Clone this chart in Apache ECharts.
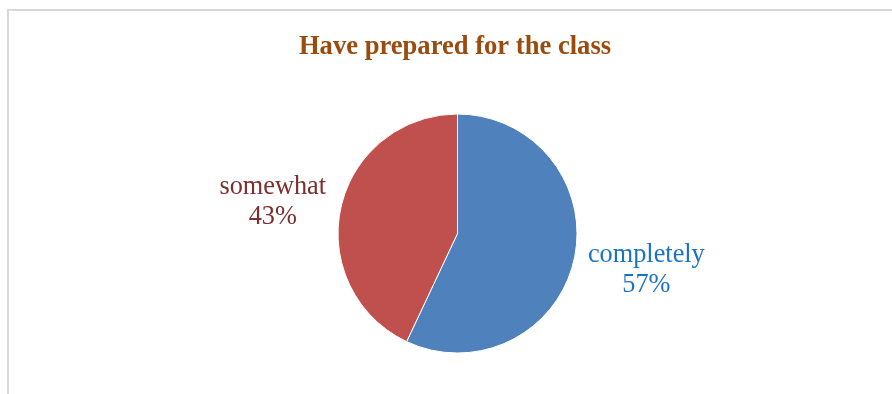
<!DOCTYPE html>
<html>
<head>
<meta charset="utf-8">
<script src="https://cdn.jsdelivr.net/npm/echarts@6/dist/echarts.min.js"></script>
<style>
  html, body { margin: 0; padding: 0; background: #fff; }
  #wrap { position: relative; width: 892px; height: 394px; overflow: hidden; }
  #frame { position: absolute; left: 7px; top: 9px; width: 1000px; height: 1000px;
           border-left: 2px solid #d9d9d9; border-top: 2px solid #d9d9d9; box-sizing: border-box; }
  #chart { position: absolute; left: 0; top: 0; width: 892px; height: 394px; }
</style>
</head>
<body>
<div id="wrap">
  <div id="frame"></div>
  <div id="chart"></div>
</div>
<script>
// Survey answers: share of students who prepared for the class
const titleText = 'Have prepared for the class';
const categories = ['completely', 'somewhat'];
const values = [57, 43];
const sliceColors = ['#4F81BD', '#C0504D'];
const labelColors = ['#1A73C2', '#7B2F2E'];

const chart = echarts.init(document.getElementById('chart'), null, { renderer: 'canvas' });

const serif = '"Liberation Serif", "Times New Roman", serif';

chart.setOption({
  animation: false,
  title: {
    text: titleText,
    left: 450,
    textAlign: 'center',
    top: 29,
    textStyle: { fontFamily: serif, fontWeight: 'bold', fontSize: 26.6, color: '#9A4C0E' }
  },
  series: [{
    type: 'pie',
    center: [457.5, 233.5],
    radius: 119.5,
    startAngle: 90,
    clockwise: true,
    itemStyle: { borderColor: '#ffffff', borderWidth: 1 },
    label: {
      show: true,
      position: 'outside',
      fontFamily: serif,
      fontSize: 26.3,
      lineHeight: 30,
      formatter: p => p.name + '\n' + p.percent.toFixed(0) + '%'
    },
    labelLine: { show: false, length: 8, length2: 0 },
    labelLayout: p => {
      const right = p.labelRect.x > 457;
      return {
        align: 'center',
        dx: right ? p.labelRect.width / 2 + 1 : -p.labelRect.width / 2 - 2,
        dy: right ? 9 : -4
      };
    },
    data: categories.map((c, i) => ({
      name: c,
      value: values[i],
      itemStyle: { color: sliceColors[i] },
      label: { color: labelColors[i] }
    }))
  }]
});
</script>
</body>
</html>
